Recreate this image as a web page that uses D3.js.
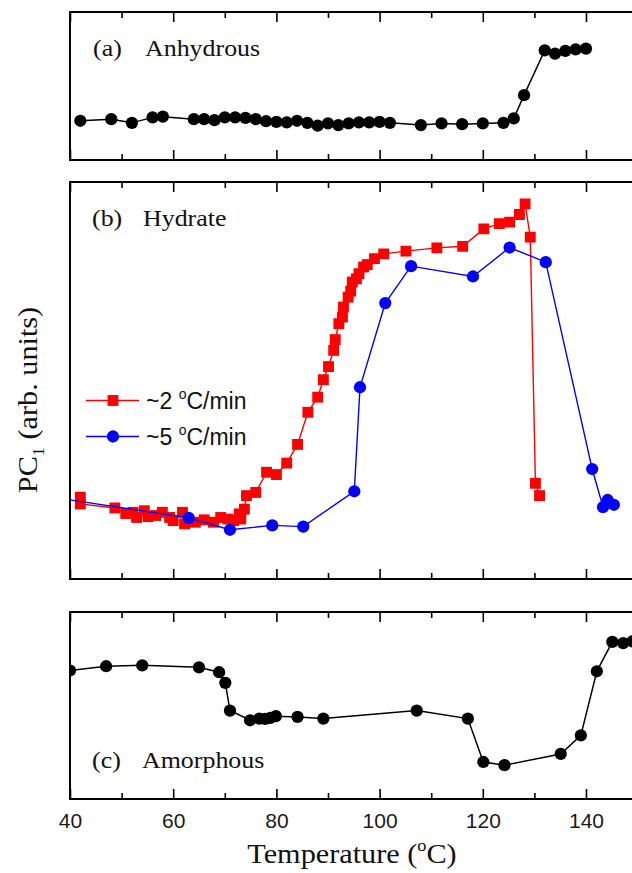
<!DOCTYPE html>
<html><head><meta charset="utf-8">
<script src="https://cdn.jsdelivr.net/npm/d3@7/dist/d3.min.js"></script>
<style>
html,body{margin:0;padding:0;background:#fff;}
svg{display:block;}
</style></head>
<body>
<svg id="chart" width="632" height="873"></svg>
<script>
// ---------- data ----------
const xTickLabels = [40, 60, 80, 100, 120, 140];
const xMinorTicks = [50, 70, 90, 110, 130, 150];

// (a) Anhydrous
const tempA = [42,48,52,56,58,64,66,68,70,72,74,76,78,80,82,84,86,88,90,92,94,96,98,100,102,108,112,116,120,124,126,128,132,134,136,138,140];
const pcA   = [26.5,27.6,25.1,28.8,29.3,27.6,27.6,26.9,28.8,28.8,28.5,27.6,26.2,25.8,25.4,26.5,25.1,23.2,24.7,23.6,24.7,25.4,25.4,25.8,25.1,23.6,24.7,24.2,24.7,25.1,28.1,43.8,74.1,71.9,73.7,74.8,75.3];

// (b) Hydrate, ~2 °C/min
const tempB2 = [42,42,48.7,50.8,52.2,52.9,54.4,55.1,56.6,57.9,59.3,60.0,61.8,62.2,64.3,66.0,67.8,69.2,70.6,71.7,72.8,73.1,73.8,74.2,76.0,78.1,80.0,82.0,84.1,86.1,88.0,89.1,90.1,91.1,91.4,92.1,92.8,93.0,93.9,94.4,94.7,95.5,96.0,96.9,97.6,99.0,100.8,105.1,111.1,116.1,120.2,123.2,125.2,127.1,128.2,129.2,130.2,131.0];
const pcB2   = [20.6,18.9,17.9,16.5,16.8,15.5,17.2,15.7,16.0,16.8,15.5,14.7,16.8,13.9,14.3,14.9,14.3,15.5,15.1,14.7,16.4,15.1,17.6,21.0,21.8,26.9,26.3,29.2,33.9,42.0,45.8,50.2,53.5,57.6,60.3,64.3,66.0,68.5,71.0,72.5,74.8,75.6,76.9,78.6,79.2,80.7,81.9,82.6,83.4,83.8,88.2,89.5,89.9,91.8,94.5,86.1,24.1,21.0];

// (b) Hydrate, ~5 °C/min
const tempB5 = [30,63,71,79.2,85.2,95.1,96.2,101.1,106.1,118.1,125.2,132.2,141.2,143.3,144.2,145.4];
const pcB5   = [21.9,15.4,12.4,13.5,13.2,22.1,48.3,69.5,78.8,76.2,83.5,79.8,27.7,18.1,19.9,18.7];

// (c) Amorphous
const tempC = [40,47,54,65,68.9,70.1,71,74.9,76.7,77.8,78.8,79.9,84.1,89.1,107.2,117.1,120.1,124.2,135.1,139,142.1,145.1,147.2,149];
const pcC   = [68.7,71.0,71.5,70.4,67.8,62.1,47.3,42.1,43.0,42.8,43.4,44.3,43.9,43.0,47.3,43.0,19.8,18.1,24.1,34.0,68.3,84.0,83.4,84.3];

const legendLabels = ["~2 ", "~5 "];

// ---------- layout ----------
const svg = d3.select("#chart");
const x = d3.scaleLinear().domain([40, 150]).range([70, 637.6]);
const panels = [
  {id:"a", top:12,  bottom:160},
  {id:"b", top:182, bottom:579},
  {id:"c", top:612, bottom:799}
];
panels.forEach(p => { p.y = d3.scaleLinear().domain([0, 100]).range([p.bottom, p.top]); });

const defs = svg.append("defs");
panels.forEach(p => {
  defs.append("clipPath").attr("id", "clip-" + p.id)
    .append("rect").attr("x", x(40)).attr("y", p.top)
    .attr("width", x(150) - x(40)).attr("height", p.bottom - p.top);
});

// frames & ticks
panels.forEach(p => {
  const g = svg.append("g");
  const mk = (axisFn, y, vals, size) => {
    const a = g.append("g").attr("transform", `translate(0,${y})`)
      .call(axisFn(x).tickValues(vals).tickSize(size).tickFormat(""));
    a.select(".domain").remove();
    a.selectAll(".tick line").attr("stroke", "#000").attr("stroke-width", 1.6);
  };
  mk(d3.axisBottom, p.bottom, xTickLabels, -10);
  mk(d3.axisBottom, p.bottom, xMinorTicks, -6);
  mk(d3.axisTop, p.top, xTickLabels, -10);
  mk(d3.axisTop, p.top, xMinorTicks, -6);
  g.append("rect").attr("x", x(40)).attr("y", p.top)
    .attr("width", x(150) - x(40)).attr("height", p.bottom - p.top)
    .attr("fill", "none").attr("stroke", "#000").attr("stroke-width", 2);
});

// bottom tick labels
const labAxis = svg.append("g").attr("transform", `translate(0,${panels[2].bottom})`)
  .call(d3.axisBottom(x).tickValues(xTickLabels).tickSize(0).tickFormat(d3.format("d")));
labAxis.select(".domain").remove();
labAxis.selectAll("text").attr("y", 29).attr("dy", 0)
  .attr("font-family", "'Liberation Sans', Arial, sans-serif").attr("font-size", 21).attr("fill", "#1a1a1a");

function series(p, temps, vals, color, shape, size, lw) {
  const data = temps.map((t, i) => [t, vals[i]]);
  const g = svg.append("g").attr("clip-path", `url(#clip-${p.id})`);
  g.append("path").datum(data)
    .attr("d", d3.line().x(d => x(d[0])).y(d => p.y(d[1])))
    .attr("fill", "none").attr("stroke", color).attr("stroke-width", lw);
  const sym = d3.symbol().type(shape).size(size);
  g.selectAll("path.m").data(data).join("path").attr("class", "m")
    .attr("transform", d => `translate(${x(d[0])},${p.y(d[1])})`)
    .attr("d", sym).attr("fill", color);
}

series(panels[0], tempA, pcA, "#000", d3.symbolCircle, 118, 1.5);
series(panels[1], tempB2, pcB2, "#ff0000", d3.symbolSquare, 118, 1.4);
series(panels[1], tempB5, pcB5, "#0000ff", d3.symbolCircle, 118, 1.4);
series(panels[2], tempC, pcC, "#000", d3.symbolCircle, 118, 1.5);

// legend
const leg = [
  {color:"#ff0000", shape:d3.symbolSquare, size:118, y:400.5, label:legendLabels[0]},
  {color:"#0000ff", shape:d3.symbolCircle, size:118, y:436.5, label:legendLabels[1]}
];
leg.forEach(l => {
  svg.append("line").attr("x1", 86).attr("x2", 139).attr("y1", l.y).attr("y2", l.y)
    .attr("stroke", l.color).attr("stroke-width", 1.4);
  svg.append("path").attr("transform", `translate(113,${l.y})`)
    .attr("d", d3.symbol().type(l.shape).size(l.size)()).attr("fill", l.color);
  const t = svg.append("text").attr("x", 146).attr("y", l.y + 8)
    .attr("font-family", "'Liberation Sans', Arial, sans-serif").attr("font-size", 23).attr("fill", "#111");
  t.append("tspan").text(l.label);
  t.append("tspan").attr("font-size", 14).attr("dy", -10).text("o");
  t.append("tspan").attr("dy", 10).text("C/min");
});

// panel labels (serif)
function serif(txt, x0, y0, size, sx) {
  return svg.append("text").attr("transform", `translate(${x0},${y0}) scale(${sx},1)`)
    .attr("font-family", "'Liberation Serif', 'Times New Roman', serif")
    .attr("font-size", size).attr("fill", "#111").text(txt);
}
serif("(a)", 93, 56, 24, 1.08);
serif("Anhydrous", 145, 56, 24, 1.08);
serif("(b)", 92, 226, 24, 1.08);
serif("Hydrate", 143, 226, 24, 1.08);
serif("(c)", 92, 768, 24, 1.08);
serif("Amorphous", 142, 768, 24, 1.08);

// axis titles
const xt = svg.append("text").attr("transform", `translate(352,863) scale(1.08,1)`)
  .attr("text-anchor", "middle")
  .attr("font-family", "'Liberation Serif', 'Times New Roman', serif")
  .attr("font-size", 28).attr("fill", "#111");
xt.append("tspan").text("Temperature (");
xt.append("tspan").attr("font-size", 17).attr("dy", -12).text("o");
xt.append("tspan").attr("dy", 12).text("C)");

const yt = svg.append("text").attr("transform", `translate(37,400) rotate(-90) scale(1.08,1)`)
  .attr("text-anchor", "middle")
  .attr("font-family", "'Liberation Serif', 'Times New Roman', serif")
  .attr("font-size", 28).attr("fill", "#111");
yt.append("tspan").text("PC");
yt.append("tspan").attr("font-size", 17).attr("dy", 7).text("1");
yt.append("tspan").attr("dy", -7).text(" (arb. units)");
</script>
</body></html>
